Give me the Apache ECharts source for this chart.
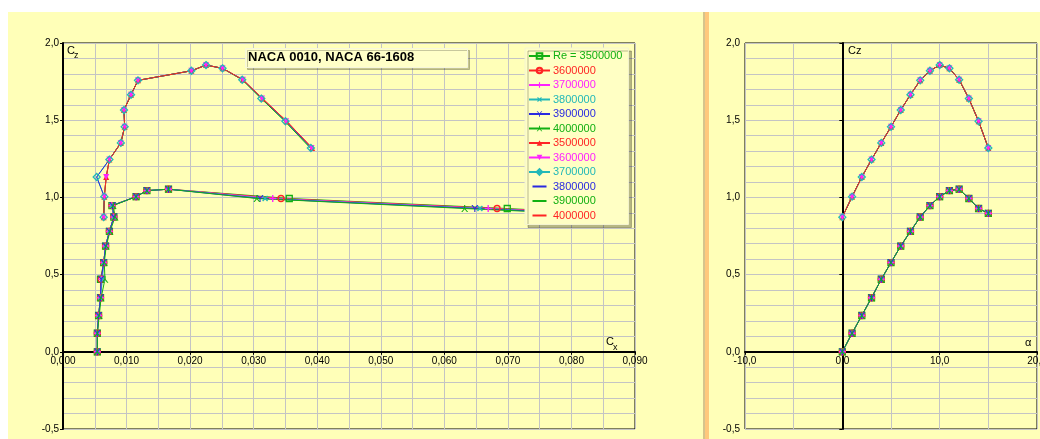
<!DOCTYPE html>
<html>
<head>
<meta charset="utf-8">
<script src="https://cdn.jsdelivr.net/npm/echarts@6/dist/echarts.min.js"></script>
<style>
  html, body { margin:0; padding:0; background:#ffffff; width:1040px; height:439px; overflow:hidden; }
  .bg { position:absolute; background:#ffffb8; }
  #chart { position:absolute; left:0; top:0; width:1040px; height:439px; }
</style>
</head>
<body>
<div class="bg" style="left:8px;top:12px;width:695px;height:427px;"></div>
<div style="position:absolute;left:703px;top:12px;width:2px;height:427px;background:#d6c48c;"></div>
<div style="position:absolute;left:705px;top:12px;width:4px;height:427px;background:#ffc87c;"></div>
<div class="bg" style="left:709px;top:12px;width:331px;height:427px;"></div>
<div id="chart"></div>
<script>
// ---------- data ----------
const alphaDeg = [0, 1, 2, 3, 4, 5, 6, 7, 8, 9, 10, 11, 12, 13, 14, 15];

const czNaca0010   = [0.000, 0.120, 0.235, 0.350, 0.470, 0.578, 0.685, 0.780, 0.873, 0.947, 1.005, 1.044, 1.053, 0.993, 0.928, 0.897];
const czNaca661608 = [0.872, 1.005, 1.132, 1.245, 1.353, 1.457, 1.566, 1.665, 1.758, 1.820, 1.857, 1.836, 1.762, 1.640, 1.493, 1.320];

const cx0010_3500000 = [0.0054, 0.0054, 0.0056, 0.0059, 0.0059, 0.0064, 0.0067, 0.0073, 0.0080, 0.0077, 0.0115, 0.0132, 0.0166, 0.0356, 0.0699, 0.0850];
const cx0010_3600000 = [0.0054, 0.0054, 0.0056, 0.0059, 0.0060, 0.0064, 0.0067, 0.0073, 0.0080, 0.0077, 0.0115, 0.0132, 0.0166, 0.0343, 0.0683, 0.0840];
const cx0010_3700000 = [0.0054, 0.0054, 0.0056, 0.0059, 0.0061, 0.0064, 0.0067, 0.0073, 0.0080, 0.0077, 0.0115, 0.0132, 0.0166, 0.0330, 0.0669, 0.0830];
const cx0010_3800000 = [0.0054, 0.0054, 0.0056, 0.0059, 0.0062, 0.0064, 0.0067, 0.0073, 0.0080, 0.0077, 0.0115, 0.0132, 0.0166, 0.0318, 0.0656, 0.0820];
const cx0010_3900000 = [0.0054, 0.0054, 0.0056, 0.0059, 0.0060, 0.0064, 0.0067, 0.0073, 0.0080, 0.0078, 0.0115, 0.0132, 0.0166, 0.0310, 0.0648, 0.0812];
const cx0010_4000000 = [0.0054, 0.0054, 0.0057, 0.0060, 0.0066, 0.0065, 0.0068, 0.0074, 0.0082, 0.0079, 0.0115, 0.0132, 0.0166, 0.0305, 0.0632, 0.0800];

const cx661608_3500000 = [0.0064, 0.0065, 0.0068, 0.0073, 0.0091, 0.0097, 0.0096, 0.0107, 0.0118, 0.0202, 0.0225, 0.0251, 0.0283, 0.0314, 0.0352, 0.0392];
const cx661608_3600000 = [0.0064, 0.0065, 0.0068, 0.0073, 0.0091, 0.0097, 0.0096, 0.0107, 0.0118, 0.0202, 0.0225, 0.0251, 0.0283, 0.0313, 0.0351, 0.0391];
const cx661608_3700000 = [0.0064, 0.0065, 0.0053, 0.0073, 0.0091, 0.0097, 0.0096, 0.0107, 0.0118, 0.0202, 0.0225, 0.0251, 0.0282, 0.0312, 0.0350, 0.0390];
const cx661608_3800000 = [0.0064, 0.0065, 0.0053, 0.0073, 0.0091, 0.0097, 0.0096, 0.0107, 0.0118, 0.0202, 0.0225, 0.0251, 0.0283, 0.0313, 0.0351, 0.0391];
const cx661608_3900000 = [0.0064, 0.0065, 0.0068, 0.0073, 0.0091, 0.0097, 0.0096, 0.0107, 0.0118, 0.0202, 0.0225, 0.0251, 0.0282, 0.0312, 0.0349, 0.0389];
const cx661608_4000000 = [0.0064, 0.0065, 0.0068, 0.0073, 0.0091, 0.0097, 0.0096, 0.0107, 0.0118, 0.0202, 0.0225, 0.0251, 0.0283, 0.0314, 0.0352, 0.0392];

const legendNames0010   = ['Re = 3500000', '3600000', '3700000', '3800000', '3900000', '4000000'];
const legendNames661608 = ['3500000 ', '3600000 ', '3700000 ', '3800000 ', '3900000 ', '4000000 '];

const xTicksPolar = [0, 0.09, 0.01];
const xTicksAlpha = [-10, 20, 10];
const yTicks = [-0.5, 2.0, 0.5];

const chartTitle = 'NACA 0010, NACA 66-1608';

// ---------- styling ----------
const BG = '#ffffb8';
const GREEN = '#12b012', RED = '#ff2424', MAGENTA = '#ff22ff', TEAL = '#22b8b8', BLUE = '#2a2ae0';
const PLUS = 'path://M4,0H6V4H10V6H6V10H4V6H0V4H4Z';
const YSYM = 'path://M0,0H1.8L5,4.0L8.2,0H10L5.8,5.2V10H4.2V5.2Z';
const LINE_ICON = 'path://M0,0H0.2V0.05H0Z M0,3.4H20V6.6H0Z M0,9.95H0.2V10H0Z';

const styles0010 = [
  {color: GREEN,   symbol: 'rect',   hollow: true,  size: 6},
  {color: RED,     symbol: 'circle', hollow: true,  size: 6},
  {color: MAGENTA, symbol: PLUS,     hollow: false, size: 7},
  {color: TEAL,    symbol: PLUS,     hollow: false, size: 7, rotate: 45},
  {color: BLUE,    symbol: YSYM,     hollow: false, size: 7},
  {color: GREEN,   symbol: YSYM,     hollow: false, size: 7, rotate: 180}
];
const styles661608 = [
  {color: RED,     symbol: 'triangle', hollow: false, size: 6},
  {color: MAGENTA, symbol: 'triangle', hollow: false, size: 6, rotate: 180},
  {color: TEAL,    symbol: 'diamond',  hollow: true,  size: 7},
  {color: BLUE,    symbol: 'none'},
  {color: GREEN,   symbol: 'none'},
  {color: RED,     symbol: 'none'}
];

const cx0010 = [cx0010_3500000, cx0010_3600000, cx0010_3700000, cx0010_3800000, cx0010_3900000, cx0010_4000000];
const cx661608 = [cx661608_3500000, cx661608_3600000, cx661608_3700000, cx661608_3800000, cx661608_3900000, cx661608_4000000];

function makeSeries(name, xs, ys, st, gridIdx) {
  return {
    type: 'line',
    name: name,
    xAxisIndex: gridIdx,
    yAxisIndex: gridIdx,
    data: xs.map((x, i) => [x, ys[i]]),
    symbol: st.symbol,
    symbolSize: st.size || 6,
    symbolRotate: st.rotate || 0,
    showAllSymbol: true,
    lineStyle: {color: st.color, width: 1},
    itemStyle: st.hollow
      ? {color: 'rgba(255,255,184,0)', borderColor: st.color, borderWidth: 1.3}
      : {color: st.color, borderWidth: 0},
    emphasis: {disabled: true},
    animation: false,
    clip: true
  };
}

const series = [];
for (let g = 0; g < 2; g++) {
  for (let i = 0; i < 6; i++) {
    series.push(makeSeries(legendNames0010[i], g === 0 ? cx0010[i] : alphaDeg, czNaca0010, styles0010[i], g));
  }
  for (let i = 0; i < 6; i++) {
    series.push(makeSeries(legendNames661608[i], g === 0 ? cx661608[i] : alphaDeg, czNaca661608, styles661608[i], g));
  }
}

const allStyles = styles0010.concat(styles661608);
const legendData = legendNames0010.concat(legendNames661608).map((n, i) => {
  const item = {name: n, textStyle: {color: allStyles[i].color}};
  if (allStyles[i].symbol === 'none') {
    item.icon = LINE_ICON;
    item.itemStyle = {color: allStyles[i].color, borderWidth: 0};
  }
  return item;
});

const FONT = 'Liberation Sans';
// grid geometry: y from -0.5 (bottom) to 2.0 (top), height 386 -> zero line 77.2 px above bottom
const ZERO_OFFSET = -386 * 0.5 / 2.5;

function valueAxis(ticks, fmtDigits, extra) {
  return Object.assign({
    type: 'value',
    min: ticks[0], max: ticks[1], interval: ticks[2],
    axisLine: {show: true, onZero: true, lineStyle: {color: '#000', width: 2}},
    axisTick: {show: true, length: 3, lineStyle: {color: '#000'}},
    axisLabel: {
      color: '#000', fontSize: 10, fontFamily: FONT, margin: 4,
      formatter: v => v.toFixed(fmtDigits).replace('.', ',')
    },
    splitLine: {show: true, lineStyle: {color: '#c4c4c4', width: 1}},
    minorSplitLine: {show: true, lineStyle: {color: '#c4c4c4', width: 1}},
    minorTick: {show: false}
  }, extra || {});
}

const chart = echarts.init(document.getElementById('chart'), null, {renderer: 'canvas'});
chart.setOption({
  animation: false,
  backgroundColor: 'transparent',
  textStyle: {fontFamily: FONT},
  grid: [
    {left: 63, top: 43, width: 572, height: 386, show: true, borderColor: '#000', borderWidth: 1, backgroundColor: 'transparent', containLabel: false, outerBoundsMode: 'none'},
    {left: 745, top: 43, width: 292, height: 386, show: true, borderColor: '#000', borderWidth: 1, backgroundColor: 'transparent', containLabel: false, outerBoundsMode: 'none'}
  ],
  xAxis: [
    valueAxis(xTicksPolar, 3, {gridIndex: 0, position: 'bottom', offset: ZERO_OFFSET,
      axisLine: {show: true, onZero: false, lineStyle: {color: '#000', width: 2}},
      minorTick: {show: false, splitNumber: 2}}),
    valueAxis(xTicksAlpha, 1, {gridIndex: 1, position: 'bottom', offset: ZERO_OFFSET,
      axisLine: {show: true, onZero: false, lineStyle: {color: '#000', width: 2}},
      minorTick: {show: false, splitNumber: 2}})
  ],
  yAxis: [
    valueAxis(yTicks, 1, {gridIndex: 0, minorTick: {show: false, splitNumber: 5}}),
    valueAxis(yTicks, 1, {gridIndex: 1, minorTick: {show: false, splitNumber: 5}, axisLabel: {
      color: '#000', fontSize: 10, fontFamily: FONT, margin: 5,
      formatter: v => v.toFixed(1).replace('.', ',')
    }})
  ],
  legend: {
    orient: 'vertical',
    left: 525, top: 48,
    data: legendData,
    itemWidth: 21, itemHeight: 7, itemGap: 2.5,
    padding: [2, 6, 3, 3],
    backgroundColor: '#ffffc4',
    borderColor: '#f4f4d0', borderWidth: 1,
    shadowColor: 'rgba(0,0,0,0.28)', shadowOffsetX: 3, shadowOffsetY: 3, shadowBlur: 0,
    textStyle: {fontSize: 11, fontFamily: FONT, lineHeight: 12, padding: [0, 0, 0, -2]},
    selectedMode: false
  },
  graphic: [
    {type: 'rect', left: 245, top: 48, z: 100,
     shape: {width: 222, height: 19},
     style: {fill: '#ffffc8', stroke: '#f6f6dc', lineWidth: 1, shadowColor: 'rgba(0,0,0,0.22)', shadowOffsetX: 2, shadowOffsetY: 2}},
    {type: 'text', left: 248, top: 51, z: 101,
     style: {text: chartTitle, font: 'bold 13px "Liberation Sans"', fill: '#000'}},
    {type: 'text', left: 67, top: 45, z: 101, style: {text: 'C', font: '11px "Liberation Sans"', fill: '#000'}},
    {type: 'text', left: 74, top: 51, z: 101, style: {text: 'z', font: '9px "Liberation Sans"', fill: '#000'}},
    {type: 'text', left: 606, top: 336, z: 101, style: {text: 'C', font: '11px "Liberation Sans"', fill: '#000'}},
    {type: 'text', left: 613, top: 343, z: 101, style: {text: 'x', font: '9px "Liberation Sans"', fill: '#000'}},
    {type: 'text', left: 848, top: 45, z: 101, style: {text: 'Cz', font: '11px "Liberation Sans"', fill: '#000'}},
    {type: 'text', left: 1025, top: 337, z: 101, style: {text: 'α', font: '11px "Liberation Sans"', fill: '#000'}}
  ],
  series: series
});
</script>
</body>
</html>
